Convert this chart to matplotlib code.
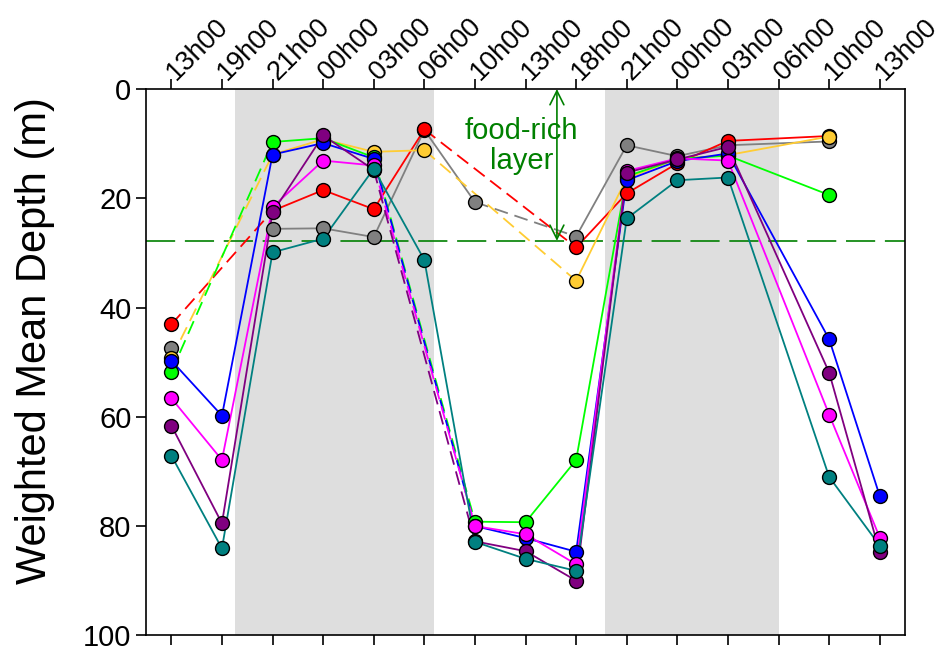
import numpy as np
import matplotlib
matplotlib.use('Agg')
import matplotlib.pyplot as plt

plt.rcParams['font.family'] = ['Liberation Sans', 'DejaVu Sans']
plt.rcParams['lines.scale_dashes'] = False

nan = np.nan

times = ['13h00', '19h00', '21h00', '00h00', '03h00', '06h00', '10h00', '13h00',
         '18h00', '21h00', '00h00', '03h00', '06h00', '10h00', '13h00']

red     = [43.1, nan, 22.3, 18.5, 22.0, 7.4, nan, nan, 29.0, 19.1, 13.6, 9.5, nan, 8.6, nan]
gray    = [47.5, nan, 25.6, 25.5, 27.1, 7.5, 20.7, nan, 27.0, 10.3, 12.3, 10.3, nan, 9.6, nan]
yellow  = [49.3, nan, 12.0, 9.2, 11.5, 11.2, nan, nan, 35.1, 16.3, 12.8, 12.1, nan, 8.7, nan]
green   = [51.8, nan, 9.7, 9.0, 12.5, nan, 79.2, 79.3, 67.9, 16.0, 12.8, 12.2, nan, 19.4, nan]
blue    = [49.7, 59.8, 12.0, 9.9, 12.8, nan, 80.0, 82.2, 84.7, 16.7, 13.2, 11.8, nan, 45.8, 74.5]
magenta = [56.6, 67.9, 21.6, 13.1, 14.0, nan, 80.0, 81.5, 87.0, 15.0, 12.7, 13.1, nan, 59.6, 82.1]
purple  = [61.6, 79.5, 22.6, 8.5, 14.8, nan, 82.8, 84.6, 90.0, 15.3, 12.9, 10.6, nan, 51.9, 84.8]
teal    = [67.1, 84.1, 29.9, 27.4, 14.6, 31.3, 82.9, 86.0, 88.2, 23.7, 16.7, 16.2, nan, 71.0, 83.6]

food_layer = 27.8
nights = [(1.25, 5.2), (8.58, 12.0)]

series = [
    (gray, '#808080'),
    (red, '#ff0000'),
    (yellow, '#ffcc33'),
    (green, '#00ff00'),
    (blue, '#0000ff'),
    (magenta, '#ff00ff'),
    (purple, '#800080'),
    (teal, '#008080'),
]
# gaps that are not bridged by a dashed line
no_link = {'#808080': [(0, 2)]}

fig = plt.figure(figsize=(9.41, 6.52), dpi=100)
ax = fig.add_axes([0.1552, 0.0256, 0.8066, 0.8379])

for a, b in nights:
    ax.axvspan(a, b, color='#dedede', lw=0, zorder=0)

ax.axhline(food_layer, color='#008000', lw=1.2, dashes=(21, 7), zorder=1)

allv = np.array([s for s, c in series], dtype=float)
sampled = [i for i in range(len(times)) if not np.all(np.isnan(allv[:, i]))]

for k, (vals, col) in enumerate(series):
    v = np.array(vals, dtype=float)
    pts = [i for i in sampled if not np.isnan(v[i])]
    for p, q in zip(pts[:-1], pts[1:]):
        gap = sampled.index(q) - sampled.index(p) > 1
        if gap and (p, q) in no_link.get(col, []):
            continue
        if gap:
            ax.plot([p, q], [v[p], v[q]], color=col, lw=1.3, dashes=(10, 5), zorder=2 + k * 0.01)
        else:
            ax.plot([p, q], [v[p], v[q]], color=col, lw=1.3, zorder=2 + k * 0.01)
    ax.plot(pts, v[pts], 'o', ms=10, mfc=col, mec='black', mew=1.0, zorder=3 + k * 0.01)

ax.annotate('', xy=(7.62, 0), xytext=(7.62, food_layer),
            arrowprops=dict(arrowstyle='<->', color='#008000', lw=1.2,
                            mutation_scale=25, shrinkA=0, shrinkB=0), zorder=4)
ax.text(6.92, 10.4, 'food-rich\nlayer', color='#008000', fontsize=21,
        ha='center', va='center', linespacing=1.1)

ax.set_xlim(-0.5, 14.5)
ax.set_ylim(100, 0)
ax.set_yticks([0, 20, 40, 60, 80, 100])
ax.set_xticks(range(len(times)))
ax.xaxis.set_ticks_position('both')
ax.tick_params(axis='x', which='both', direction='out', length=7, width=1.2,
               labelbottom=False, labeltop=True, labelsize=19.5, pad=2)
ax.tick_params(axis='y', direction='out', length=7, width=1.2, labelsize=21, right=False)
ax.set_xticklabels(times, rotation=45, ha='left', va='center', rotation_mode='anchor')
ax.set_ylabel('Weighted Mean Depth (m)', fontsize=30)
ax.yaxis.set_label_coords(-0.12, 0.54)
for sp in ax.spines.values():
    sp.set_linewidth(1.2)

fig.savefig('out.png', dpi=100)
